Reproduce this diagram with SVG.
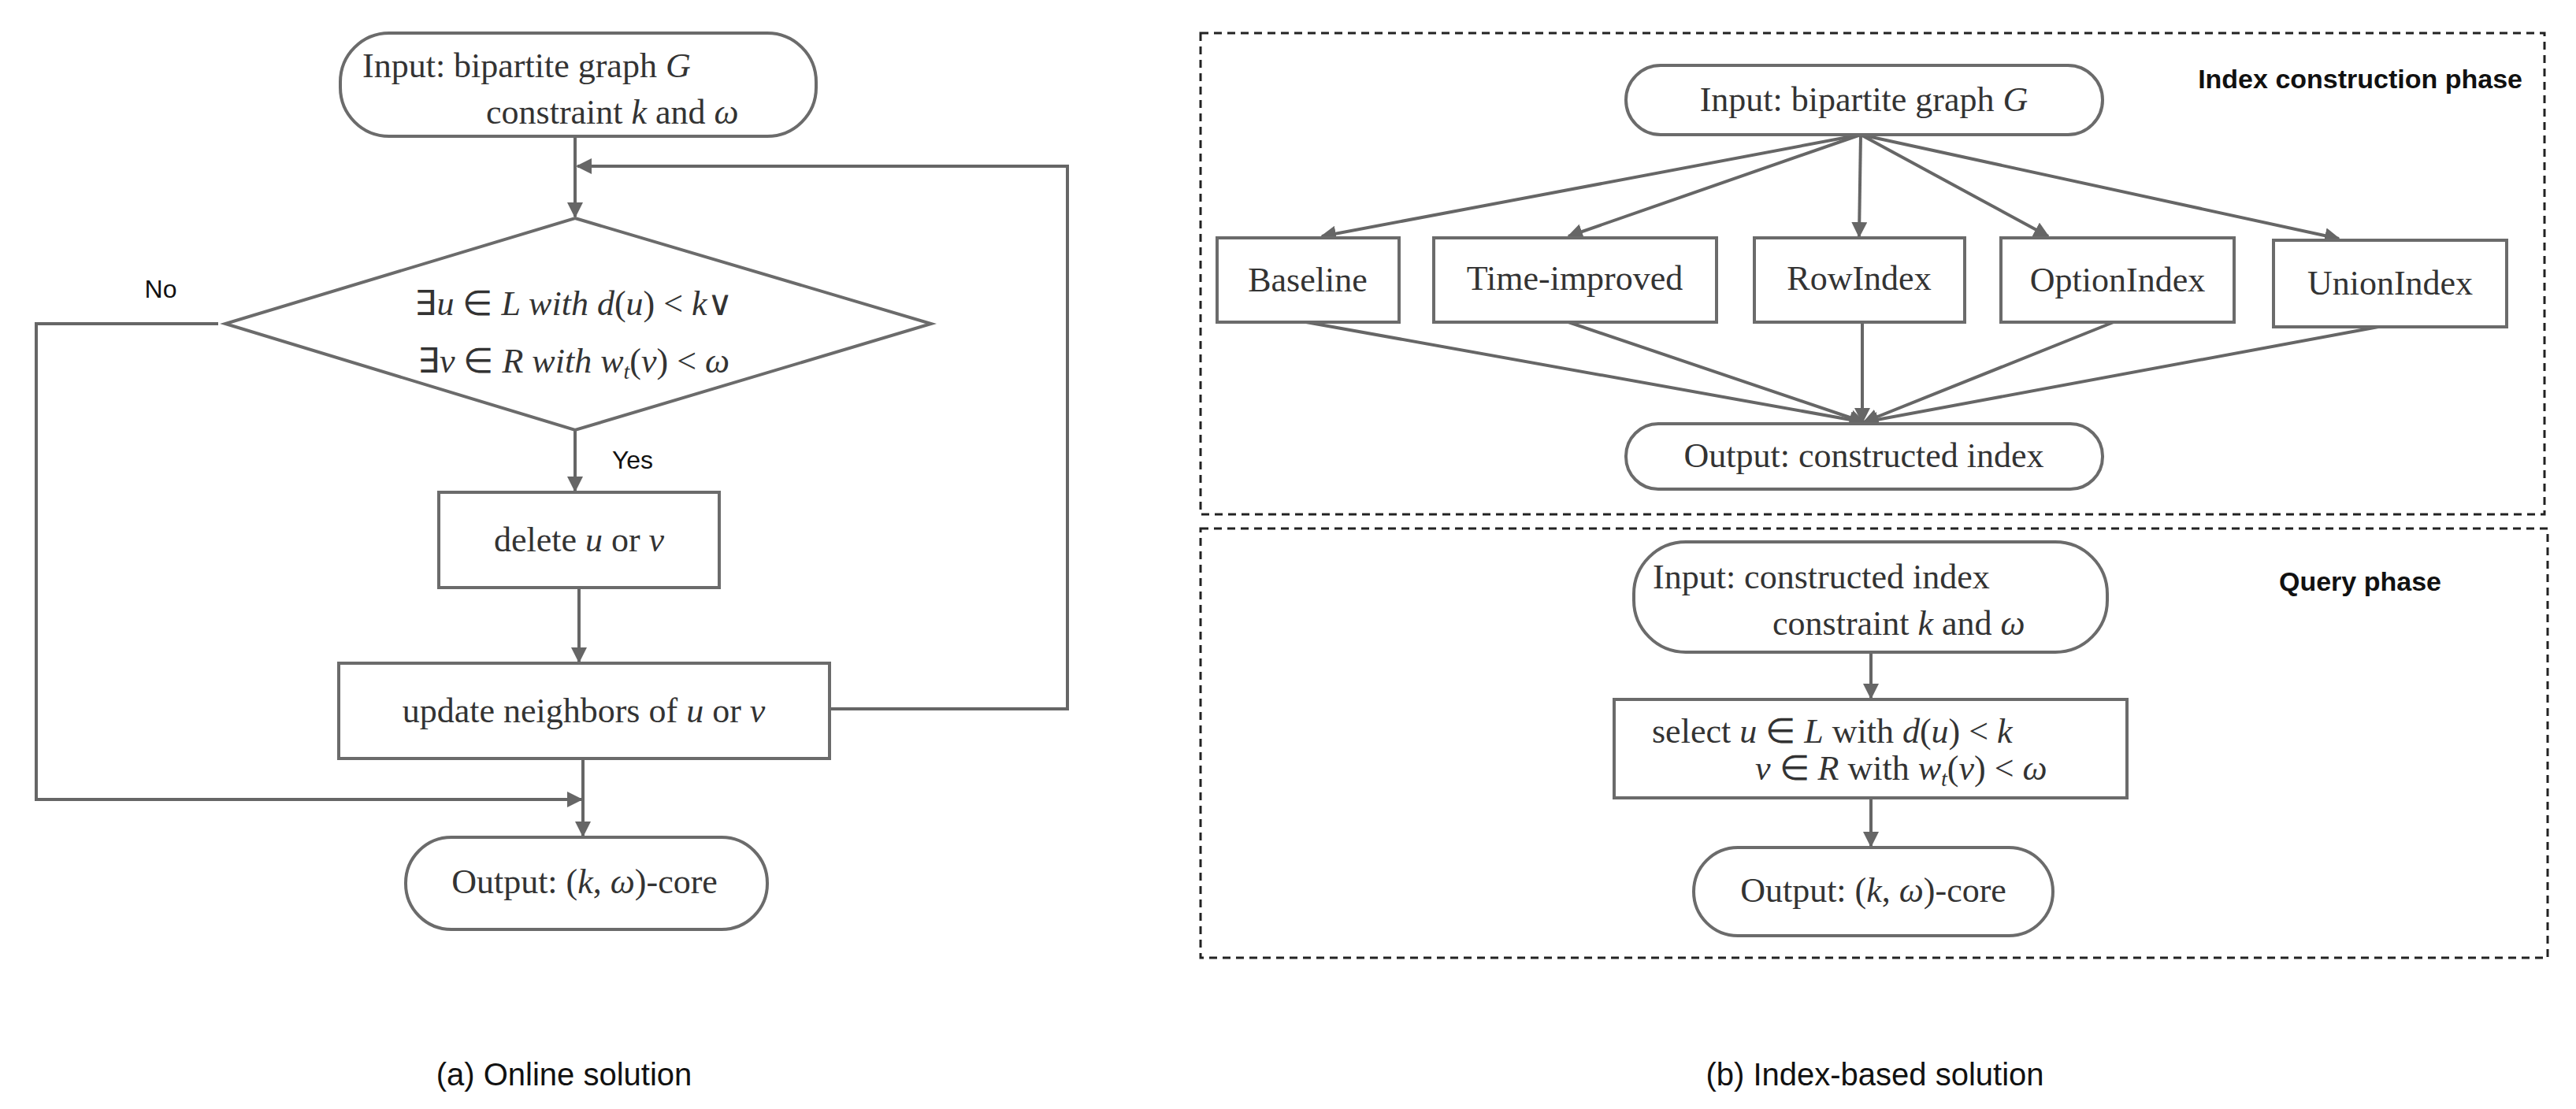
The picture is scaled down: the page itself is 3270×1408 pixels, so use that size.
<svg xmlns="http://www.w3.org/2000/svg" width="3270" height="1408" viewBox="0 0 3270 1408">
<style>
.s{fill:#fff;stroke:#6b6b6b;stroke-width:4}
.c{fill:none;stroke:#666;stroke-width:4}
.d{fill:none;stroke:#222;stroke-width:3;stroke-dasharray:10 7}
.t{font-family:"Liberation Serif",serif;font-size:44px;fill:#333}
.i{font-style:italic}
.l{font-family:"Liberation Sans",sans-serif;fill:#111}
.b{font-family:"Liberation Sans",sans-serif;font-weight:bold;font-size:34px;fill:#111}
</style>
<defs><marker id="a" viewBox="0 0 10 10" refX="9" refY="5" markerWidth="5" markerHeight="5" orient="auto-start-reverse"><path d="M0,0L10,5L0,10z" fill="#666"/></marker></defs>
<g id="connectors">
<path class="c" d="M730,173V275" marker-end="url(#a)"/>
<path class="c" d="M730,546V623" marker-end="url(#a)"/>
<path class="c" d="M735,746V840" marker-end="url(#a)"/>
<path class="c" d="M1053,900H1355V211H733" marker-end="url(#a)"/>
<path class="c" d="M740,963V1061" marker-end="url(#a)"/>
<path class="c" d="M277,411H46V1015H738" marker-end="url(#a)"/>
<path class="c" d="M2362,171L1678,300" marker-end="url(#a)"/>
<path class="c" d="M2362,171L1991,300" marker-end="url(#a)"/>
<path class="c" d="M2362,171L2360,300" marker-end="url(#a)"/>
<path class="c" d="M2362,171L2600,300" marker-end="url(#a)"/>
<path class="c" d="M2362,171L2969,303" marker-end="url(#a)"/>
<path class="c" d="M1658,409L2366,536" marker-end="url(#a)"/>
<path class="c" d="M1991,409L2366,536" marker-end="url(#a)"/>
<path class="c" d="M2364,409V536" marker-end="url(#a)"/>
<path class="c" d="M2683,409L2366,536" marker-end="url(#a)"/>
<path class="c" d="M3019,415L2366,536" marker-end="url(#a)"/>
<path class="c" d="M2375,828V886" marker-end="url(#a)"/>
<path class="c" d="M2375,1013V1074" marker-end="url(#a)"/>
</g>
<g id="in1"><rect class="s" x="432" y="42" width="604" height="131" rx="62"/>
<text class="t" x="460" y="98">Input:  bipartite graph <tspan class="i">G</tspan></text>
<text class="t" x="617" y="157">constraint <tspan class="i">k</tspan> and <tspan class="i">ω</tspan></text></g>
<g id="dec"><path class="s" d="M730,277L1182,411L730,546L286,411Z"/>
<text class="t" x="728" y="400" text-anchor="middle">∃<tspan class="i">u</tspan> ∈ <tspan class="i">L with d</tspan>(<tspan class="i">u</tspan>) &lt; <tspan class="i">k</tspan>∨</text>
<text class="t" x="728" y="473" text-anchor="middle">∃<tspan class="i">v</tspan> ∈ <tspan class="i">R with w</tspan><tspan font-size="28" class="i" dy="8">t</tspan><tspan dy="-8">(</tspan><tspan class="i">v</tspan>) &lt; <tspan class="i">ω</tspan></text></g>
<text class="l" x="204" y="378" font-size="32" text-anchor="middle">No</text>
<text class="l" x="803" y="595" font-size="32" text-anchor="middle">Yes</text>
<g id="del"><rect class="s" x="557" y="625" width="356" height="121"/>
<text class="t" x="735" y="700" text-anchor="middle">delete <tspan class="i">u</tspan> or <tspan class="i">v</tspan></text></g>
<g id="upd"><rect class="s" x="430" y="842" width="623" height="121"/>
<text class="t" x="741" y="917" text-anchor="middle">update neighbors of  <tspan class="i">u</tspan> or <tspan class="i">v</tspan></text></g>
<g id="out1"><rect class="s" x="515" y="1063" width="459" height="117" rx="58"/>
<text class="t" x="742" y="1134" text-anchor="middle">Output:  (<tspan class="i">k</tspan>, <tspan class="i">ω</tspan>)-core</text></g>
<text class="l" x="716" y="1378" font-size="40" text-anchor="middle">(a) Online solution</text>
<rect class="d" x="1524" y="42" width="1706" height="611"/>
<rect class="d" x="1524" y="671" width="1710" height="545"/>
<text class="b" x="3202" y="112" text-anchor="end">Index construction phase</text>
<text class="b" x="2996" y="750" text-anchor="middle">Query phase</text>
<g id="in2"><rect class="s" x="2064" y="83" width="605" height="88" rx="44"/>
<text class="t" x="2366" y="141" text-anchor="middle">Input:  bipartite graph <tspan class="i">G</tspan></text></g>
<g id="n1"><rect class="s" x="1545" y="302" width="231" height="107"/><text class="t" x="1660" y="370" text-anchor="middle">Baseline</text></g>
<g id="n2"><rect class="s" x="1820" y="302" width="359" height="107"/><text class="t" x="1999" y="368" text-anchor="middle">Time-improved</text></g>
<g id="n3"><rect class="s" x="2227" y="302" width="267" height="107"/><text class="t" x="2360" y="368" text-anchor="middle">RowIndex</text></g>
<g id="n4"><rect class="s" x="2540" y="302" width="296" height="107"/><text class="t" x="2688" y="370" text-anchor="middle">OptionIndex</text></g>
<g id="n5"><rect class="s" x="2886" y="305" width="296" height="110"/><text class="t" x="3034" y="374" text-anchor="middle">UnionIndex</text></g>
<g id="out2"><rect class="s" x="2064" y="538" width="605" height="83" rx="41"/>
<text class="t" x="2366" y="593" text-anchor="middle">Output:  constructed index</text></g>
<g id="in3"><rect class="s" x="2074" y="688" width="601" height="140" rx="66"/>
<text class="t" x="2098" y="747">Input:  constructed index</text>
<text class="t" x="2250" y="806">constraint <tspan class="i">k</tspan> and <tspan class="i">ω</tspan></text></g>
<g id="sel"><rect class="s" x="2049" y="888" width="651" height="125"/>
<text class="t" x="2097" y="943">select <tspan class="i">u</tspan> ∈ <tspan class="i">L</tspan> with <tspan class="i">d</tspan>(<tspan class="i">u</tspan>) &lt; <tspan class="i">k</tspan></text>
<text class="t" x="2228" y="990"><tspan class="i">v</tspan> ∈ <tspan class="i">R</tspan> with <tspan class="i">w</tspan><tspan font-size="28" class="i" dy="8">t</tspan><tspan dy="-8">(</tspan><tspan class="i">v</tspan>) &lt; <tspan class="i">ω</tspan></text></g>
<g id="out3"><rect class="s" x="2150" y="1076" width="456" height="112" rx="56"/>
<text class="t" x="2378" y="1145" text-anchor="middle">Output:  (<tspan class="i">k</tspan>, <tspan class="i">ω</tspan>)-core</text></g>
<text class="l" x="2380" y="1378" font-size="40" text-anchor="middle">(b) Index-based solution</text>
</svg>
